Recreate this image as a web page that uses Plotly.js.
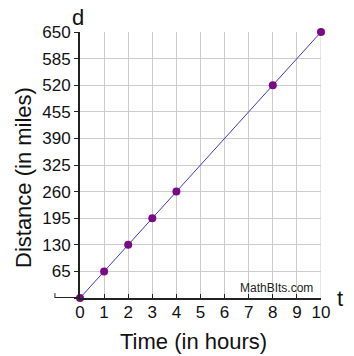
<!DOCTYPE html>
<html><head><meta charset="utf-8">
<script src="https://cdn.plot.ly/plotly-3.0.1.min.js"></script>
<style>html,body{margin:0;padding:0;background:#fff;}#chart{width:354px;height:356px;}</style>
</head><body><div id="chart"></div>
<script>
const timeHours = [0, 1, 2, 3, 4, 8, 10];
const distanceMiles = [0, 65, 130, 195, 260, 520, 650];
const lineTime = [0, 10];
const lineDistance = [0, 650];
const xTicks = [0,1,2,3,4,5,6,7,8,9,10];
const yTicks = [0,65,130,195,260,325,390,455,520,585,650];
const yTickText = ['', '65','130','195','260','325','390','455','520','585','650'];

const traces = [
  {x: lineTime, y: lineDistance, mode: 'lines', line: {color: '#3a3ad0', width: 1}, hoverinfo: 'skip', cliponaxis: false},
  {x: timeHours, y: distanceMiles, mode: 'markers', marker: {color: '#7b0a85', size: 8}, cliponaxis: false}
];
const layout = {
  width: 354, height: 356,
  margin: {l: 80, r: 33, t: 32, b: 58},
  paper_bgcolor: '#fff', plot_bgcolor: '#fff',
  showlegend: false,
  font: {family: 'Liberation Sans, Arial, sans-serif', color: '#111', size: 17},
  xaxis: {
    range: [0, 10], tickvals: xTicks, ticktext: xTicks.map(String),
    showgrid: true, gridcolor: '#cccccc', gridwidth: 1,
    showline: true, linecolor: '#222', linewidth: 2,
    ticks: 'inside', ticklen: 4, tickcolor: '#222',
    zeroline: false, tickfont: {size: 17}, ticklabelstandoff: -2
  },
  yaxis: {
    range: [0, 650], tickvals: yTicks, ticktext: yTickText,
    showgrid: true, gridcolor: '#cccccc', gridwidth: 1,
    showline: true, linecolor: '#222', linewidth: 2,
    ticks: 'outside', ticklen: 4, tickcolor: '#222',
    zeroline: false, tickfont: {size: 17}
  },
  shapes: [
    {type: 'line', xref: 'paper', yref: 'y', x0: -0.104, x1: 0, y0: 0, y1: 0, line: {color: '#222', width: 2}},
    {type: 'line', xref: 'paper', yref: 'y', x0: -0.104, x1: -0.104, y0: 0, y1: 12, line: {color: '#222', width: 1}},
    {type: 'line', xref: 'x', yref: 'paper', x0: 10, x1: 10, y0: 0, y1: 1, line: {color: '#cccccc', width: 1}, layer: 'below'}
  ],
  annotations: [
    {text: 'd', xref: 'paper', yref: 'paper', x: -0.01, y: 1.0, xanchor: 'center', yanchor: 'bottom', showarrow: false, font: {size: 22, color: '#111'}},
    {text: 't', xref: 'paper', yref: 'y', x: 1.08, y: 0, xanchor: 'center', yanchor: 'middle', showarrow: false, font: {size: 22, color: '#111'}},
    {text: 'MathBIts.com', xref: 'x', yref: 'y', x: 8.17, y: 0, xanchor: 'center', yanchor: 'bottom', yshift: 1, showarrow: false, font: {size: 12, color: '#222'}},
    {text: 'Time (in hours)', xref: 'paper', yref: 'paper', x: (193.5 - 80) / 241, y: -(342 - 298) / 266, xanchor: 'center', yanchor: 'middle', showarrow: false, font: {size: 22, color: '#111'}},
    {text: 'Distance (in miles)', xref: 'paper', yref: 'paper', x: -(80 - 23) / 241, y: (298 - 178) / 266, xanchor: 'center', yanchor: 'middle', textangle: -90, showarrow: false, font: {size: 22, color: '#111'}}
  ]
};
Plotly.newPlot('chart', traces, layout, {staticPlot: true, displayModeBar: false});
</script></body></html>
